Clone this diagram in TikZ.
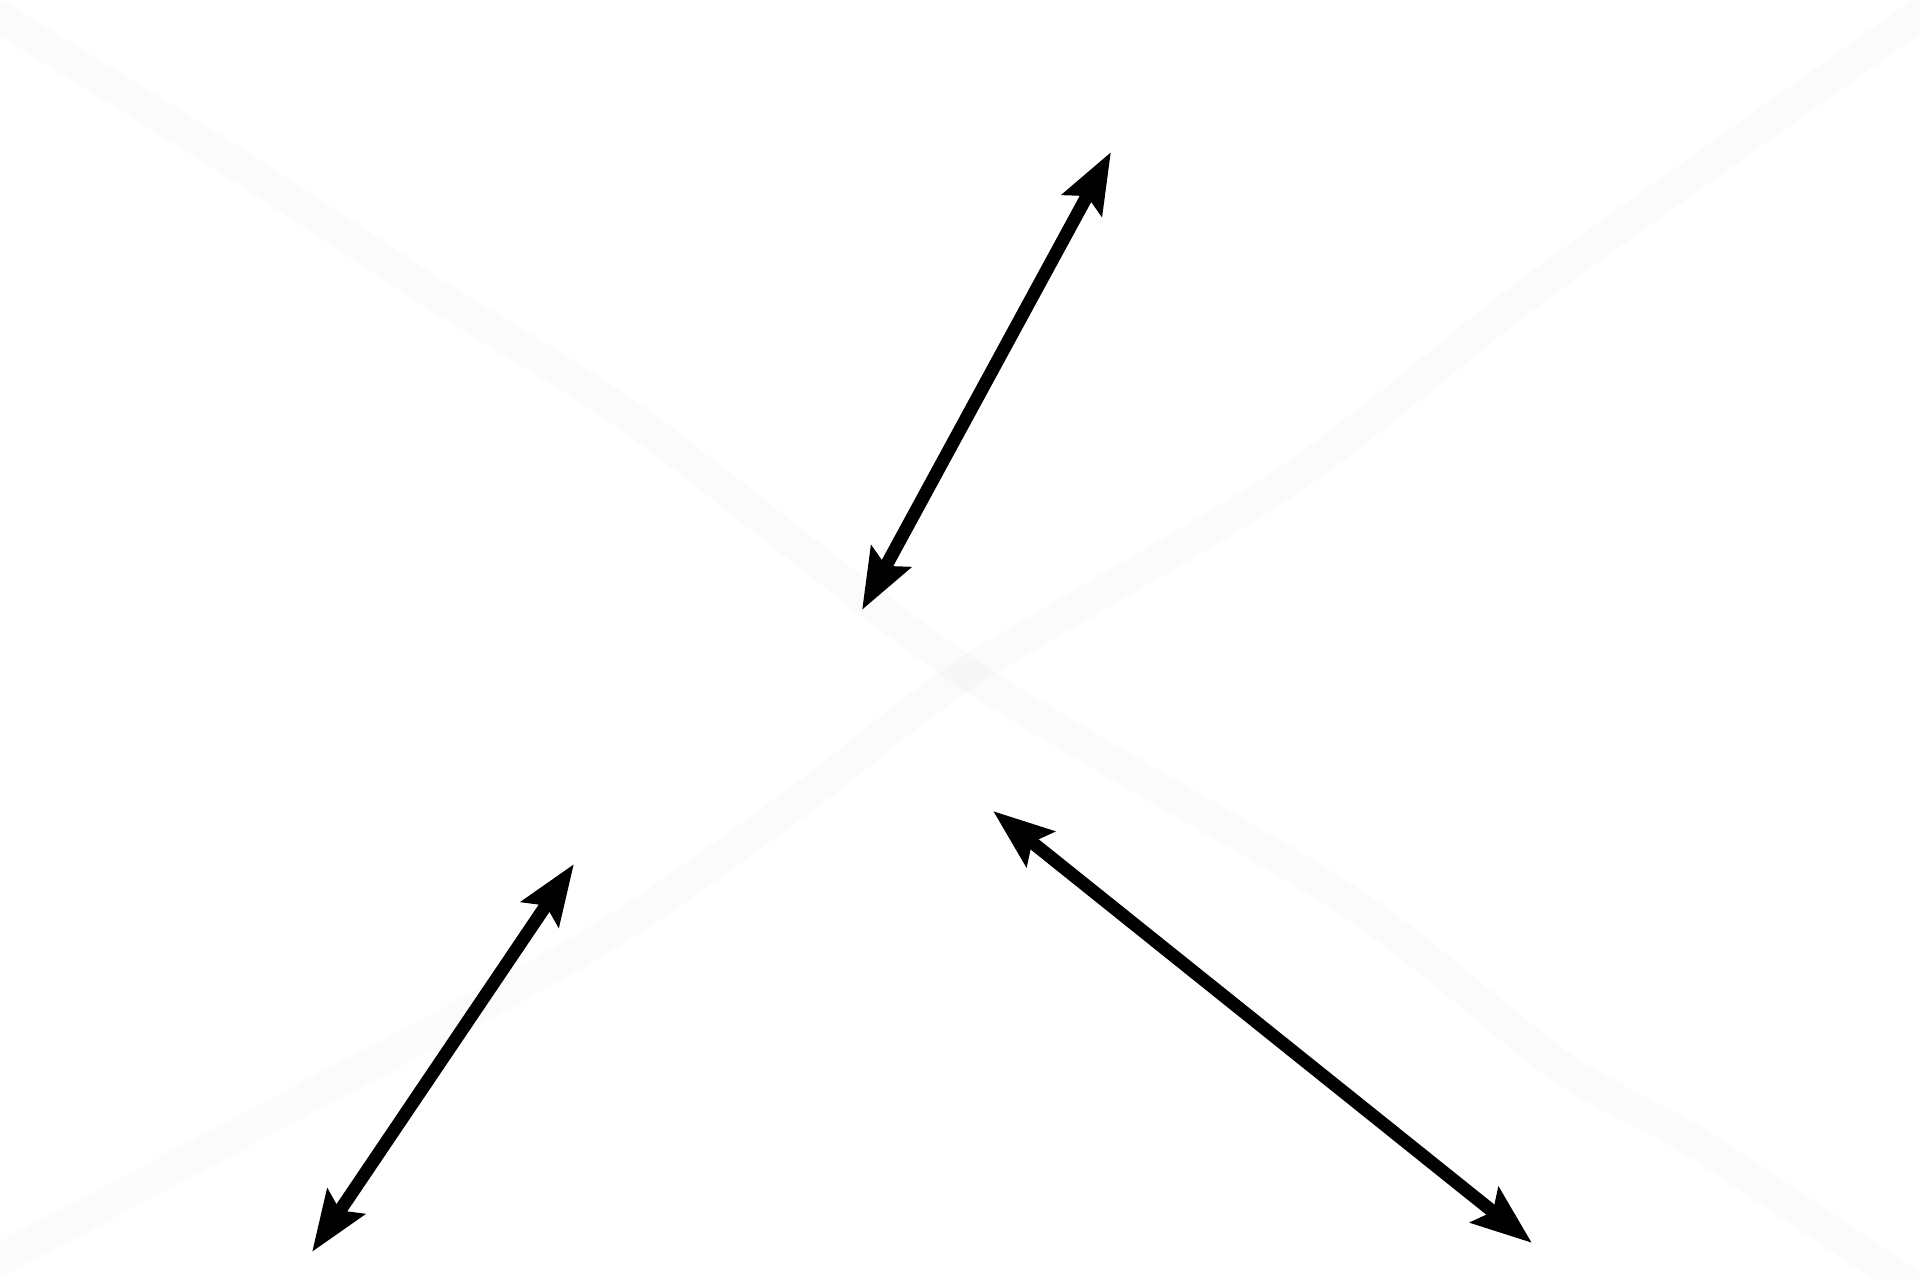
\documentclass[tikz,border=0pt]{standalone}
\usepackage{xcolor}
\usepackage{tikz}
\usetikzlibrary{arrows.meta}
\tikzstyle{band} = [line width=0.32cm, draw=black, opacity=0.016, line join=round]
\tikzstyle{arrow} = [line width=0.13cm, {Stealth[length=0.6cm, width=0.44cm, inset=0.1cm]}-{Stealth[length=0.6cm, width=0.44cm, inset=0.1cm]}]

\begin{document}
\begin{tikzpicture}[x=0.01cm, y=-0.01cm]

\useasboundingbox (0,0) rectangle (1920,1280);
\clip (0,0) rectangle (1920,1280);

% faint crossing bands
\draw [band] plot [smooth] coordinates {(-20,5) (233,162) (433,293) (637,422) (967,673) (1347,900) (1560,1066) (1700,1145) (1940,1305)};
\draw [band] plot [smooth] coordinates {(-20,1270) (240,1133) (590,945) (800,800) (967,673) (1286,482) (1520,300) (1700,170) (1940,0)};

\coordinate (top1) at (1111,152);
\coordinate (top2) at (862,610);
\coordinate (left1) at (574,864);
\coordinate (left2) at (312,1252);
\coordinate (right1) at (993,811);
\coordinate (right2) at (1532,1243);

\draw [arrow] (top2) -- (top1);
\draw [arrow] (left2) -- (left1);
\draw [arrow] (right1) -- (right2);

\end{tikzpicture}
\end{document}
